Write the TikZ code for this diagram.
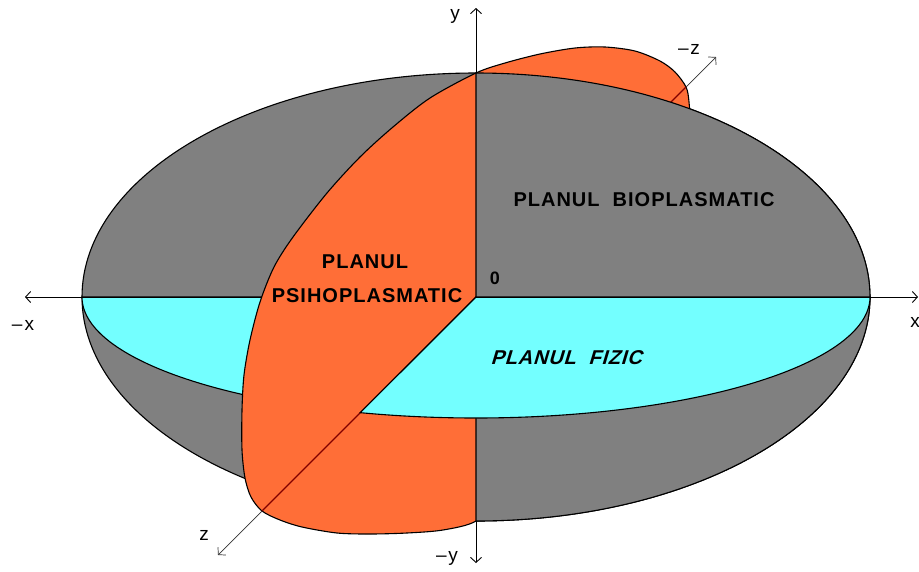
\documentclass[tikz,border=0pt]{standalone}
\usepackage{fontspec}
\setmainfont{Liberation Sans}
\newfontfamily\lblfont[LetterSpace=5]{Liberation Sans}
\newfontfamily\fizfont[LetterSpace=4,FakeSlant=0.3]{Liberation Sans}
\usetikzlibrary{arrows.meta}
\definecolor{plgray}{RGB}{128,128,128}
\definecolor{plcyan}{RGB}{115,255,255}
\definecolor{plorange}{RGB}{255,110,55}
\definecolor{pldred}{RGB}{128,0,0}
\begin{document}
\begin{tikzpicture}[x=1pt,y=-1pt,
  outline/.style={draw=black,line width=1.1pt},
  axis/.style={draw=black,line width=0.9pt},
  thinaxis/.style={draw=black!80,line width=0.7pt},
  tip/.style={-{Straight Barb[length=5pt,width=11pt]}},
  axlabel/.style={font=\fontsize{19}{19}\selectfont,inner sep=0pt},
  planelabel/.style={font=\lblfont\bfseries\fontsize{20}{20}\selectfont,inner sep=0pt},
]
\useasboundingbox (0,0) rectangle (919,571);
% key points
\coordinate (O) at (476,297);
\coordinate (gL) at (82,297);
\coordinate (gR) at (870,297);
\coordinate (gT) at (476,73);
\coordinate (gB) at (476,521);
\coordinate (Zp) at (262,511);
\coordinate (Zm) at (686,87);
\coordinate (xL) at (25,297);
\coordinate (xR) at (918,297);
\coordinate (yT) at (476,8);
\coordinate (yB) at (476,563);
\coordinate (zT) at (218,555);
\coordinate (zmT) at (716,57);
% bioplasmatic plane (full)
\draw[outline,fill=plgray] (O) ellipse [x radius=394, y radius=224];
% physical plane (full)
\draw[outline,fill=plcyan] (gL) arc[start angle=180,end angle=0,x radius=394,y radius=121] -- cycle;
% left x axis
\draw[axis,tip] (O) -- (xL);
% psihoplasmatic plane
\draw[outline,fill=plorange] plot[smooth cycle,tension=0.5] coordinates {
 (476,73) (505,63) (540,54) (575,48) (605,47) (635,51) (660,61) (675,72) (686,87) (689,102)
 (690,130) (684,180) (660,260) (610,350) (550,430) (500,495)
 (476,521) (443,530) (407,533) (370,534) (337,533) (302,527) (280,520) (262,511)
 (251,497) (245,478) (242,450) (242,410) (244,375) (250,340) (260,302)
 (274,267) (293,237) (327,193) (360,157) (393,127) (430,98) };
% z axis inside plane
\draw[pldred,line width=1.1pt] (Zm) -- (Zp);
% front-right half of bioplasmatic plane
\draw[outline,fill=plgray] (gT) arc[start angle=-90,end angle=90,x radius=394,y radius=224] -- cycle;
% front part of physical plane
\draw[outline,fill=plcyan] (O) -- (gR) arc[start angle=0,end angle=107.08,x radius=394,y radius=121] -- cycle;
% axes
\draw[axis,tip] (O) -- (xR);
\draw[axis,tip] (gT) -- (yT);
\draw[axis,tip] (gB) -- (yB);
\draw[thinaxis,tip] (Zp) -- (zT);
\draw[thinaxis,tip] (Zm) -- (zmT);
% labels
\node[axlabel] (ly) at (455,16) {y};
\node[axlabel] (lmz) at (689,49) {–\kern1.5pt z};
\node[axlabel] (lmx) at (23,325) {–\kern2pt x};
\node[axlabel] (lx) at (915,322) {x};
\node[axlabel] (lz) at (204,535) {z};
\node[axlabel] (lmy) at (447,558) {–\kern1.5pt y};
\node[font=\bfseries\fontsize{18}{18}\selectfont,inner sep=0pt] (l0) at (495,278) {0};
\node[planelabel] (lbio) at (644,200) {PLANUL\ \ BIOPLASMATIC};
\node[planelabel] (lpsi1) at (365,262) {PLANUL};
\node[planelabel] (lpsi2) at (367,296) {PSIHOPLASMATIC};
\node[inner sep=0pt,font=\fizfont\bfseries\fontsize{20}{20}\selectfont] (lfiz) at (566,358) {PLANUL\ \ FIZIC};
\end{tikzpicture}
\end{document}
